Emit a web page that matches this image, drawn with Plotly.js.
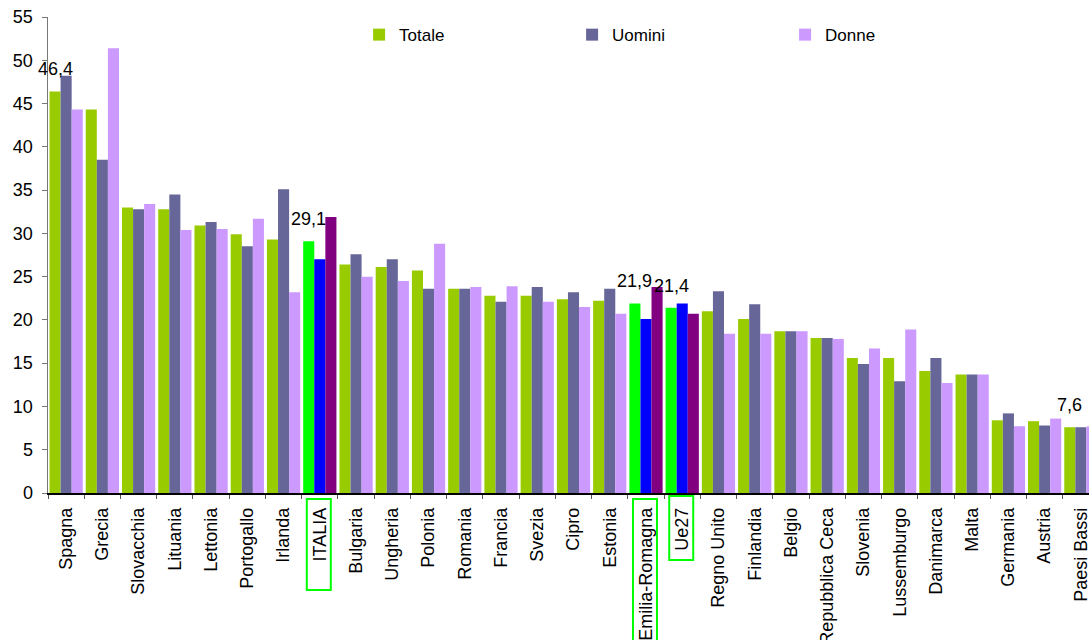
<!DOCTYPE html>
<html>
<head>
<meta charset="utf-8">
<script src="https://cdn.plot.ly/plotly-3.0.1.min.js"></script>
<style>
  html, body { margin: 0; padding: 0; background: #fff; overflow: hidden; width: 1089px; height: 640px; }
  #chart { width: 1099px; height: 640px; }
</style>
</head>
<body>
<div id="chart"></div>
<script>
// Paesi / regioni
const categories = [
  'Spagna', 'Grecia', 'Slovacchia', 'Lituania', 'Lettonia', 'Portogallo', 'Irlanda',
  'ITALIA', 'Bulgaria', 'Ungheria', 'Polonia', 'Romania', 'Francia', 'Svezia', 'Cipro',
  'Estonia', 'Emilia-Romagna', 'Ue27', 'Regno Unito', 'Finlandia', 'Belgio',
  'Repubblica Ceca', 'Slovenia', 'Lussemburgo', 'Danimarca', 'Malta', 'Germania',
  'Austria', 'Paesi Bassi'
];

const totale = [46.4, 44.3, 33.0, 32.8, 30.9, 29.9, 29.3, 29.1, 26.4, 26.1, 25.7, 23.6, 22.8, 22.8,
  22.4, 22.2, 21.9, 21.4, 21.0, 20.1, 18.7, 17.9, 15.6, 15.6, 14.1, 13.7, 8.4, 8.3, 7.6];
const uomini = [48.2, 38.5, 32.8, 34.5, 31.3, 28.5, 35.1, 27.0, 27.6, 27.0, 23.6, 23.6, 22.1, 23.8,
  23.2, 23.6, 20.1, 21.9, 23.3, 21.8, 18.7, 17.9, 14.9, 12.9, 15.6, 13.7, 9.2, 7.8, 7.6];
const donne = [44.3, 51.4, 33.4, 30.4, 30.5, 31.7, 23.2, 31.9, 25.0, 24.5, 28.8, 23.8, 23.9, 22.1,
  21.5, 20.7, 23.8, 20.7, 18.4, 18.4, 18.7, 17.8, 16.7, 18.9, 12.7, 13.7, 7.7, 8.6, 7.7];

// Voci evidenziate e voci con etichetta del valore totale
const highlighted = ['ITALIA', 'Emilia-Romagna', 'Ue27'];
const labelled = ['Spagna', 'ITALIA', 'Emilia-Romagna', 'Ue27', 'Paesi Bassi'];

const yTicks = [0, 5, 10, 15, 20, 25, 30, 35, 40, 45, 50, 55];

// Colori
const baseColors = { totale: '#99CC00', uomini: '#666699', donne: '#CC99FF' };
const hiColors = { totale: '#00FF00', uomini: '#0000FF', donne: '#800080' };

const FONT = 'Arial, "Liberation Sans", sans-serif';
const W = 1099, H = 640;
const M = { l: 48, r: 0, t: 17, b: 147 };
const BARGAP = 0.083;

function colorsFor(key) {
  return categories.map(c => highlighted.includes(c) ? hiColors[key] : baseColors[key]);
}

const traces = [
  { name: 'Totale', values: totale, key: 'totale' },
  { name: 'Uomini', values: uomini, key: 'uomini' },
  { name: 'Donne', values: donne, key: 'donne' }
].map(s => ({
  type: 'bar',
  name: s.name,
  x: categories,
  y: s.values,
  marker: { color: colorsFor(s.key), line: { width: 0 } },
  hoverinfo: 'x+y+name'
}));

// Etichette sopra la barra "Totale"
const catWidth = (W - M.l - M.r) / categories.length;
const barWidth = catWidth * (1 - BARGAP) / 3;
const annotations = labelled.map(c => {
  const i = categories.indexOf(c);
  return {
    x: c, y: totale[i], xref: 'x', yref: 'y',
    text: totale[i].toFixed(1).replace('.', ','),
    showarrow: false,
    xshift: -barWidth, yshift: 22,
    xanchor: 'center', yanchor: 'middle',
    font: { family: FONT, size: 18, color: '#000' }
  };
});

// Riquadri verdi attorno alle etichette evidenziate (in pixel sotto l'asse)
const boxExtent = { 'ITALIA': [-6, -97], 'Emilia-Romagna': [-6, -170], 'Ue27': [-3, -67] };
const shapes = highlighted.map(c => ({
  type: 'rect',
  xref: 'x', yref: 'paper',
  xsizemode: 'pixel', ysizemode: 'pixel',
  xanchor: categories.indexOf(c), yanchor: 0,
  x0: -13, x1: 11,
  y0: boxExtent[c][0], y1: boxExtent[c][1],
  line: { color: '#00FF00', width: 2 },
  fillcolor: 'rgba(0,0,0,0)'
}));

const layout = {
  width: W, height: H,
  margin: M,
  paper_bgcolor: '#fff', plot_bgcolor: '#fff',
  font: { family: FONT, size: 18, color: '#000' },
  barmode: 'group',
  bargap: BARGAP,
  bargroupgap: 0,
  showlegend: true,
  legend: {
    orientation: 'h',
    x: 0.296, xanchor: 'left',
    y: 0.962, yanchor: 'middle',
    entrywidth: 168,
    font: { family: FONT, size: 17, color: '#000' },
    bgcolor: 'rgba(0,0,0,0)',
    traceorder: 'normal'
  },
  xaxis: {
    type: 'category',
    range: [-0.5, categories.length - 0.5],
    autorange: false,
    automargin: false,
    tickangle: -90,
    ticks: 'outside', ticklen: 4, tickcolor: '#555', tickwidth: 1,
    tickson: 'boundaries',
    showline: true, linecolor: '#000', linewidth: 1.5,
    showgrid: false, zeroline: false,
    tickfont: { family: FONT, size: 18, color: '#000' },
    ticklabelstandoff: 6,
    fixedrange: true
  },
  yaxis: {
    range: [0, 55],
    autorange: false,
    automargin: false,
    tickvals: yTicks,
    ticktext: yTicks.map(String),
    ticks: 'outside', ticklen: 5, tickcolor: '#777', tickwidth: 1,
    showline: true, linecolor: '#777', linewidth: 1.5,
    showgrid: false, zeroline: false,
    tickfont: { family: FONT, size: 18, color: '#000' },
    ticklabelstandoff: 5,
    fixedrange: true
  },
  annotations: annotations,
  shapes: shapes
};

Plotly.newPlot('chart', traces, layout, { displayModeBar: false, responsive: false, staticPlot: true });
</script>
</body>
</html>
